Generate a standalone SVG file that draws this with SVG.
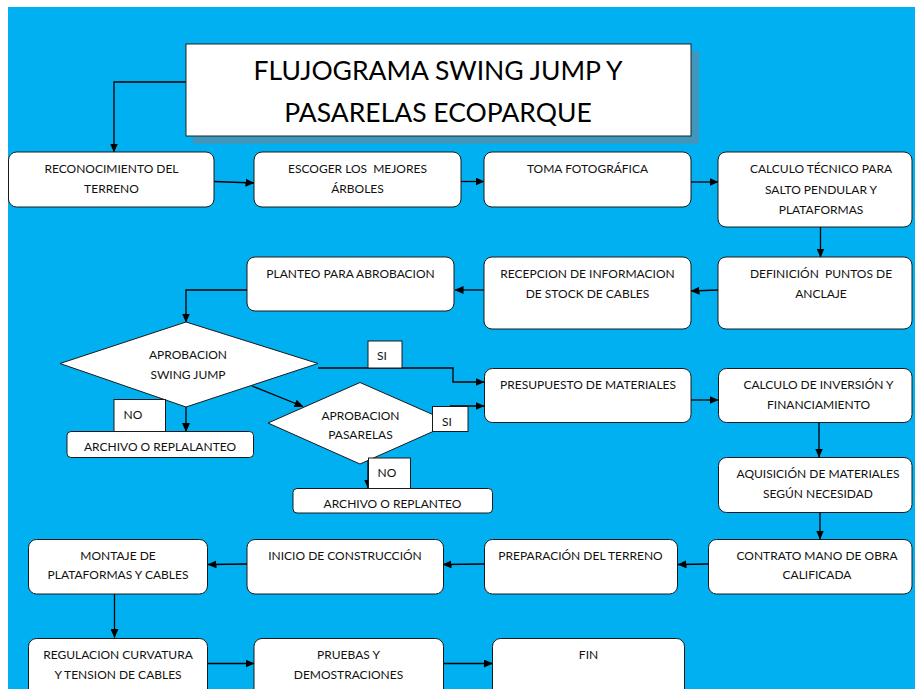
<svg xmlns="http://www.w3.org/2000/svg" width="915" height="689" viewBox="0 0 915 689">
<defs>
<marker id="ah" markerWidth="9" markerHeight="8" refX="8.5" refY="4" orient="auto" markerUnits="userSpaceOnUse">
<path d="M0,0 L9,4 L0,8 Z" fill="#000"/>
</marker>
<style>
.box{fill:#fff;stroke:#1a1a1a;stroke-width:1}
.t{font-family:Lato,"Open Sans","Liberation Sans",sans-serif;font-size:12px;fill:#111;text-anchor:middle;white-space:pre}
.title{font-family:Lato,"Open Sans","Liberation Sans",sans-serif;font-size:26.5px;fill:#000;text-anchor:middle}
.c{fill:none;stroke:#000;stroke-width:1.3;marker-end:url(#ah)}
</style>
</defs>
<rect x="0" y="0" width="915" height="689" fill="#fff"/>
<rect x="8" y="7" width="907" height="682" fill="#00B0F0"/>

<g id="connectors">
<path class="c" d="M186,82 H114 V152"/>
<path class="c" d="M214,181.5 L254,183"/>
<path class="c" d="M461,181.5 H484"/>
<path class="c" d="M691,182 H718"/>
<path class="c" d="M820.5,227 V257"/>
<path class="c" d="M718,290 L691,291"/>
<path class="c" d="M484,290 H455"/>
<path class="c" d="M247,290 H186 V322"/>
<path class="c" d="M318,368 H453 V382 H484"/>
<path class="c" d="M252,386 L303,406.5"/>
<path class="c" d="M186,407 V431.5"/>
<path class="c" d="M450,406 H484"/>
<path class="c" d="M368,460 V488"/>
<path class="c" d="M691,400 H718"/>
<path class="c" d="M819,423 V457"/>
<path class="c" d="M820,513 V539"/>
<path class="c" d="M708,564 L678,564.5"/>
<path class="c" d="M484,564 L443,564.5"/>
<path class="c" d="M247,564 L208,564.5"/>
<path class="c" d="M114.5,594 V637.5"/>
<path class="c" d="M208,663.5 H254"/>
<path class="c" d="M443,663.5 H492.5"/>
</g>

<g id="title">
<rect x="193" y="51" width="506" height="93" fill="#3F97BD"/>
<rect x="186" y="44" width="505" height="92" fill="#fff" stroke="#222" stroke-width="1"/>
<text class="title" x="438" y="79.5">FLUJOGRAMA SWING JUMP Y</text>
<text class="title" x="438" y="121.5">PASARELAS ECOPARQUE</text>
</g>

<g id="n1"><rect class="box" x="8.5" y="152" width="205.5" height="55" rx="8"/>
<text class="t" x="111.5" y="172.5">RECONOCIMIENTO DEL</text><text class="t" x="111.5" y="192.5">TERRENO</text></g>

<g id="n2"><rect class="box" x="254" y="152" width="207" height="55" rx="8"/>
<text class="t" x="357.5" y="172.5" xml:space="preserve">ESCOGER LOS  MEJORES</text><text class="t" x="357.5" y="192.5">ÁRBOLES</text></g>

<g id="n3"><rect class="box" x="484" y="152" width="207" height="55" rx="8"/>
<text class="t" x="587.5" y="172.5">TOMA FOTOGRÁFICA</text></g>

<g id="n4"><rect class="box" x="718" y="152" width="194" height="75" rx="8"/>
<text class="t" x="821" y="173">CALCULO TÉCNICO PARA</text><text class="t" x="821" y="193.5">SALTO PENDULAR Y</text><text class="t" x="821" y="214">PLATAFORMAS</text></g>

<g id="n5"><rect class="box" x="718" y="257" width="194" height="72" rx="8"/>
<text class="t" x="821" y="278" xml:space="preserve">DEFINICIÓN  PUNTOS DE</text><text class="t" x="821" y="297.5">ANCLAJE</text></g>

<g id="n6"><rect class="box" x="484" y="257" width="207" height="72" rx="8"/>
<text class="t" x="587.5" y="278">RECEPCION DE INFORMACION</text><text class="t" x="587.5" y="297.5">DE STOCK DE CABLES</text></g>

<g id="n7"><rect class="box" x="247" y="257" width="207" height="54" rx="8"/>
<text class="t" x="350.5" y="277.5">PLANTEO PARA ABROBACION</text></g>

<g id="d1"><polygon points="186,322 318,363.5 186,407 60,363.5" fill="#fff" stroke="#1a1a1a" stroke-width="1"/>
<text class="t" x="188" y="358.5">APROBACION</text><text class="t" x="188" y="378.5">SWING JUMP</text></g>

<g id="si1"><rect x="368" y="341" width="34" height="27" fill="#fff" stroke="#1a1a1a" stroke-width="1"/>
<text class="t" x="382" y="359.5">SI</text></g>

<g id="no1"><rect x="114" y="399.5" width="51.5" height="32" fill="#fff" stroke="#1a1a1a" stroke-width="1"/>
<text class="t" x="133" y="418.5">NO</text></g>

<g id="n8"><rect class="box" x="67" y="431.5" width="186.5" height="26" rx="4"/>
<text class="t" x="160" y="451">ARCHIVO O REPLALANTEO</text></g>

<g id="d2"><polygon points="360,382.5 452,423 360,464 268,423" fill="#fff" stroke="#1a1a1a" stroke-width="1"/>
<text class="t" x="360.5" y="419.5">APROBACION</text><text class="t" x="360.5" y="439">PASARELAS</text></g>

<g id="si2"><rect x="432.5" y="406.5" width="35.5" height="25" fill="#fff" stroke="#1a1a1a" stroke-width="1"/>
<text class="t" x="447" y="426">SI</text></g>

<g id="no2"><rect x="368.5" y="458" width="42" height="30.5" fill="#fff" stroke="#1a1a1a" stroke-width="1"/>
<text class="t" x="387" y="477">NO</text></g>

<g id="n9"><rect class="box" x="293" y="488.5" width="199.5" height="24.5" rx="4"/>
<text class="t" x="392.5" y="508">ARCHIVO O REPLANTEO</text></g>

<g id="n10"><rect class="box" x="484.5" y="368.5" width="206.5" height="54" rx="8"/>
<text class="t" x="588" y="389">PRESUPUESTO DE MATERIALES</text></g>

<g id="n11"><rect class="box" x="718.5" y="368.5" width="193.5" height="54" rx="8"/>
<text class="t" x="818.5" y="389">CALCULO DE INVERSIÓN Y</text><text class="t" x="818.5" y="409">FINANCIAMIENTO</text></g>

<g id="n12"><rect class="box" x="718.5" y="457.5" width="193.5" height="55" rx="8"/>
<text class="t" x="818" y="478">AQUISICIÓN DE MATERIALES</text><text class="t" x="818" y="498">SEGÚN NECESIDAD</text></g>

<g id="n13"><rect class="box" x="708.5" y="539.5" width="203.5" height="54.5" rx="8"/>
<text class="t" x="817" y="559.5">CONTRATO MANO DE OBRA</text><text class="t" x="817" y="579">CALIFICADA</text></g>

<g id="n14"><rect class="box" x="484.5" y="539.5" width="193" height="54.5" rx="8"/>
<text class="t" x="580.5" y="559.5">PREPARACIÓN DEL TERRENO</text></g>

<g id="n15"><rect class="box" x="247" y="539.5" width="196.5" height="54.5" rx="8"/>
<text class="t" x="345" y="559.5">INICIO DE CONSTRUCCIÓN</text></g>

<g id="n16"><rect class="box" x="28.5" y="539.5" width="179" height="54.5" rx="8"/>
<text class="t" x="118" y="559.5">MONTAJE DE</text><text class="t" x="118" y="579">PLATAFORMAS Y CABLES</text></g>

<g id="n17"><rect class="box" x="28.5" y="638.5" width="179" height="60" rx="8"/>
<text class="t" x="118" y="659">REGULACION CURVATURA</text><text class="t" x="118" y="679">Y TENSION DE CABLES</text></g>

<g id="n18"><rect class="box" x="254" y="638.5" width="189.5" height="60" rx="8"/>
<text class="t" x="348.5" y="659">PRUEBAS Y</text><text class="t" x="348.5" y="679">DEMOSTRACIONES</text></g>

<g id="n19"><rect class="box" x="492.5" y="638.5" width="192" height="60" rx="8"/>
<text class="t" x="588.5" y="659">FIN</text></g>
</svg>
